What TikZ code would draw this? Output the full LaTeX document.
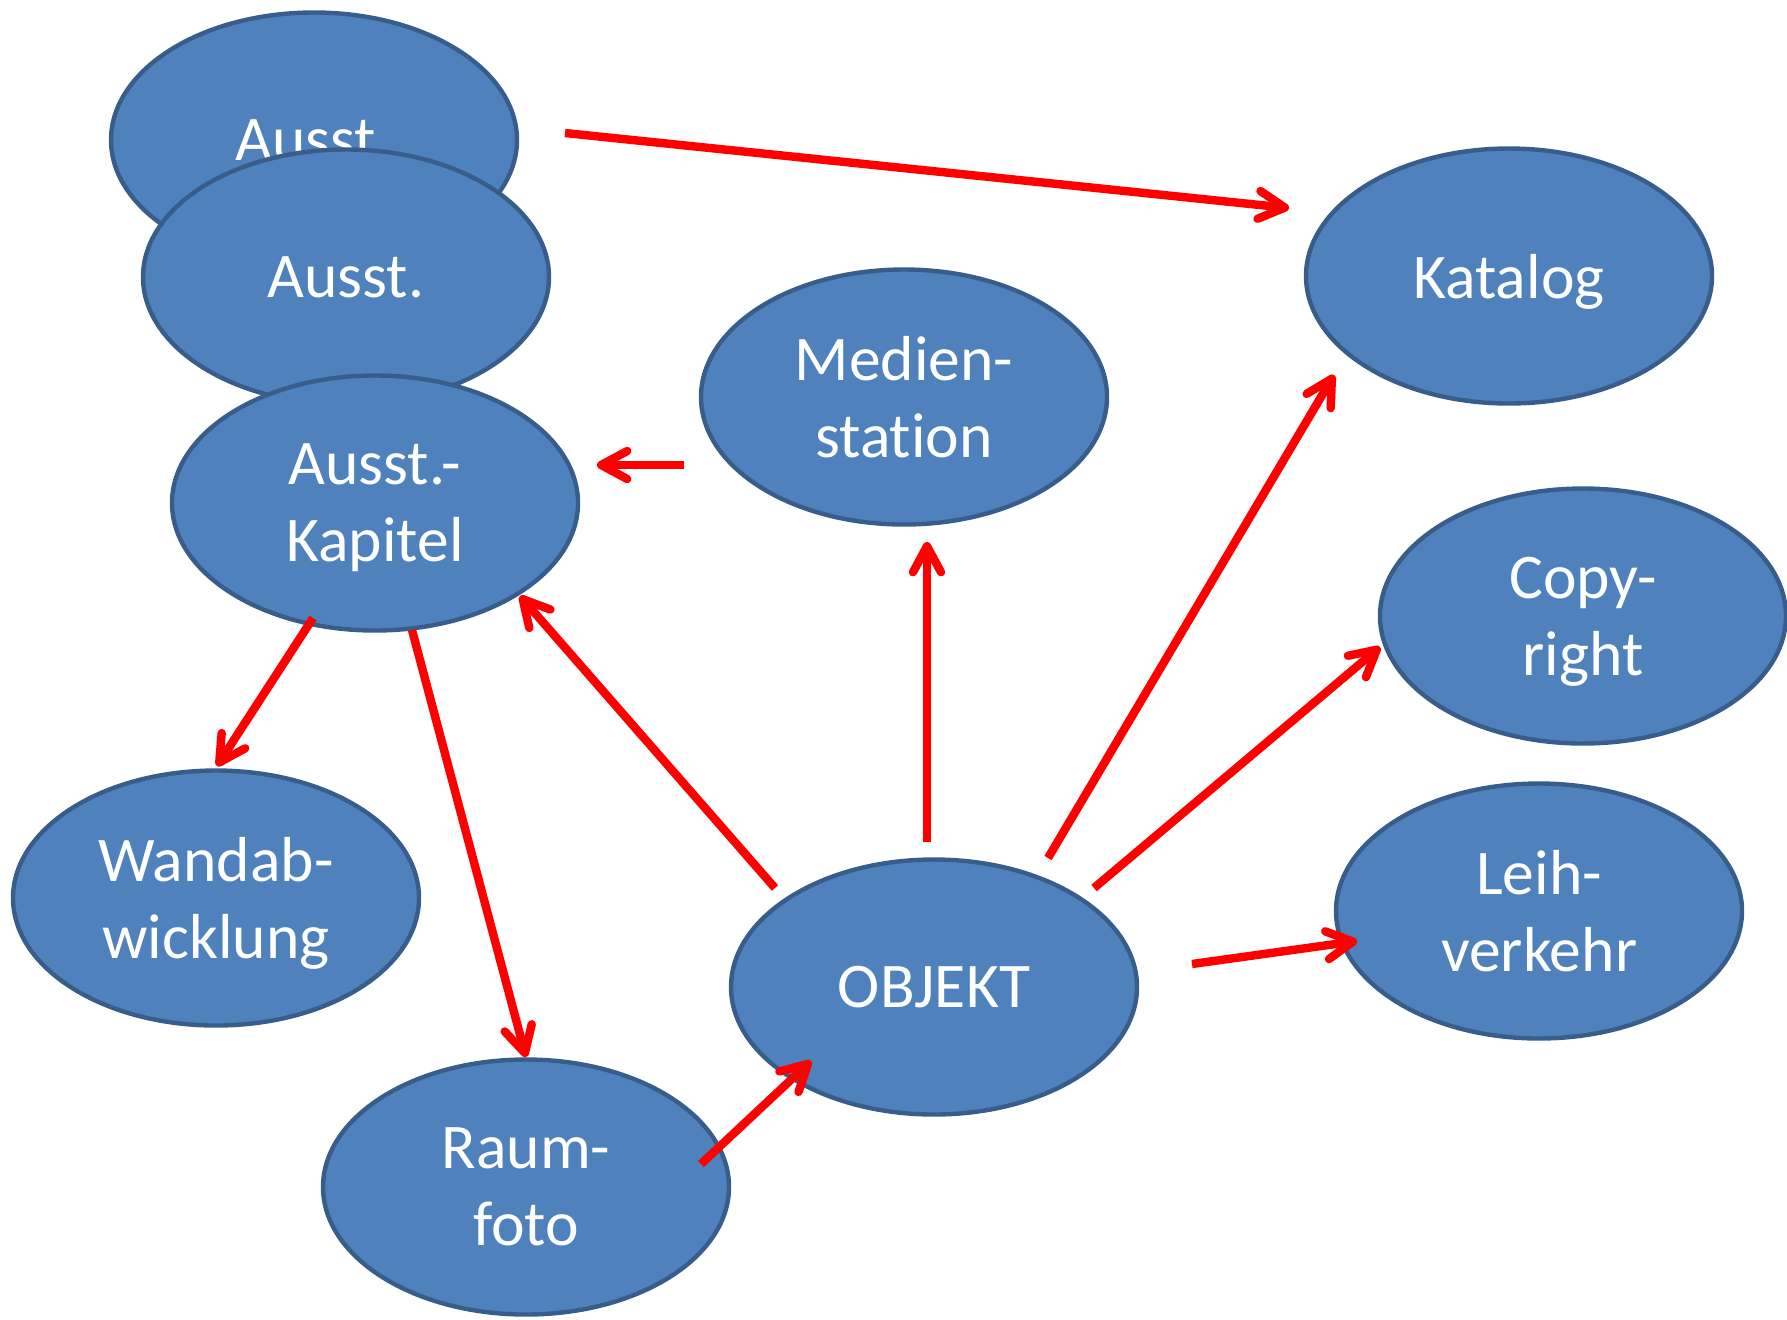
\documentclass[tikz,border=0pt]{standalone}
\usepackage{fontspec}
\setmainfont{Carlito}[Ligatures=CommonOff]
\usetikzlibrary{shapes.geometric,arrows.meta}
\definecolor{bubblefill}{RGB}{79,129,189}
\definecolor{bubbleline}{RGB}{56,93,138}

\begin{document}
\begin{tikzpicture}[x=0.5pt,y=-0.5pt]
\tikzstyle{every node}+=[inner sep=0pt]
\tikzstyle{bubble}=[ellipse,draw=bubbleline,fill=bubblefill,line width=2.2pt,minimum width=203pt,minimum height=127.5pt,text=white,align=center,text depth=0pt,font=\fontsize{31.8}{38.5}\selectfont]
\tikzstyle{link}=[draw=red,line width=4.2pt,-{Straight Barb[length=13pt,width=14pt,round]}]
\useasboundingbox (0,0) rectangle (1787,1319);
\node [bubble] (ausstA) at (314,140) {Ausst.};
\node [bubble] (ausstB) at (346,277) {Ausst.};
\node [bubble] (kapitel) at (375,503) {Ausst.-\\Kapitel};
\node [bubble] (medien) at (904,397) {Medien-\\station};
\node [bubble] (katalog) at (1509,276) {Katalog};
\node [bubble] (copy) at (1583,616) {Copy-\\right};
\node [bubble] (leih) at (1539,911) {Leih-\\verkehr};
\node [bubble] (wand) at (216,898) {Wandab-\\wicklung};
\node [bubble] (objekt) at (934,987) {OBJEKT};
\node [bubble] (raum) at (526,1187) {Raum-\\foto};
\draw [link] ([shift={(251,-7)}]ausstA.center) -- ([shift={(-220,-68)}]katalog.center);
\draw [link] ([shift={(-220,68)}]medien.center) -- ([shift={(222,-38)}]kapitel.center);
\draw [link] ([shift={(-62,115)}]kapitel.center) -- ([shift={(1,-132)}]wand.center);
\draw [link] ([shift={(37,127)}]kapitel.center) -- ([shift={(0,-130)}]raum.center);
\draw [link] ([shift={(-159,-99)}]objekt.center) -- ([shift={(145,93)}]kapitel.center);
\draw [link] ([shift={(-7,-145)}]objekt.center) -- ([shift={(23,145)}]medien.center);
\draw [link] ([shift={(114,-129)}]objekt.center) -- ([shift={(-175,99)}]katalog.center);
\draw [link] ([shift={(160,-99)}]objekt.center) -- ([shift={(-203,31)}]copy.center);
\draw [link] ([shift={(258,-23)}]objekt.center) -- ([shift={(-182,30)}]leih.center);
\draw [link] ([shift={(175,-23)}]raum.center) -- ([shift={(-123,74)}]objekt.center);
\end{tikzpicture}
\end{document}
